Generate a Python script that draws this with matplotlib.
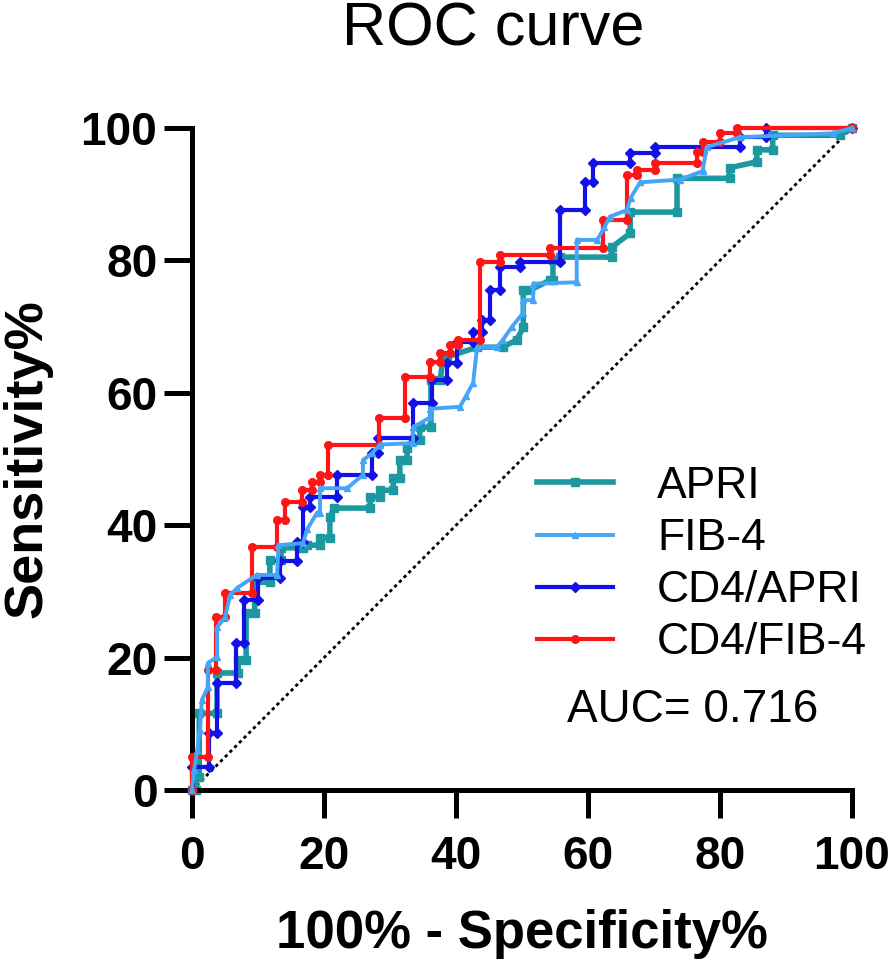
import matplotlib
matplotlib.use("Agg")
import matplotlib.pyplot as plt

plt.rcParams['font.family'] = ['Liberation Sans', 'DejaVu Sans']

# ROC points (100% - specificity %, sensitivity %)
apri_x = [0, 0.6, 0.6, 1.1, 1.1, 3.8, 3.8, 7.0, 7.0, 8.2, 8.2, 9.5, 9.5, 11.8, 11.8,
          13.5, 13.5, 16.8, 17.4, 19.4, 19.4, 20.9, 20.9, 21.5, 27.0, 27.0, 28.5, 28.5,
          30.5, 30.5, 31.5, 31.5, 32.6, 32.6, 33.5, 34.5, 34.5, 36.2, 36.2, 37.6, 38.0,
          38.6, 43.2, 47.1, 49.2, 50.2, 50.2, 51.2, 54.2, 54.7, 54.7, 55.8, 63.6, 63.6,
          66.4, 66.4, 73.5, 73.5, 81.5, 81.5, 85.6, 85.6, 88.0, 88.0, 98.2, 100]
apri_y = [0, 0, 2, 2, 11.6, 11.6, 17.7, 17.7, 19.6, 19.6, 26.7, 26.7, 31.4, 31.4, 34.7,
          34.7, 36.6, 36.6, 37.0, 37.0, 38.1, 38.1, 41.2, 42.6, 42.6, 44.3, 44.3, 45.3,
          45.3, 47.1, 47.1, 49.8, 49.8, 51.7, 52.9, 52.9, 54.8, 54.8, 61.9, 61.9, 65.0,
          65.4, 66.9, 66.9, 68.0, 69.9, 75.5, 75.5, 77.0, 77.0, 80.1, 80.5, 80.5, 82.0,
          84.1, 87.3, 87.3, 92.4, 92.4, 94.0, 94.9, 96.7, 96.7, 98.9, 98.9, 100]

fib4_x = [0, 0.3, 0.8, 1.2, 1.5, 2.4, 2.4, 3.8, 3.8, 5.0, 5.8, 6.8, 9.8, 12.9, 13.1,
          16.8, 17.5, 18.9, 19.4, 19.4, 23.5, 25.9, 25.9, 27.3, 28.5, 33.5, 33.5, 36.1,
          36.1, 40.6, 41.5, 42.6, 43.2, 46.2, 47.1, 48.5, 50.2, 50.2, 51.7, 51.7, 58.3,
          58.3, 61.4, 62.5, 63.3, 65.9, 66.5, 67.9, 73.9, 77.4, 77.4, 78.0, 83.0, 97.1, 100]
fib4_y = [0, 3, 6, 9.1, 13.6, 15.6, 19.2, 20.1, 24.6, 26.1, 29.5, 30.5, 32.5, 32.5, 37.0,
          37.3, 39.5, 41.8, 41.8, 45.6, 45.6, 47.6, 49.8, 50.9, 52.2, 52.4, 54.8, 56.3,
          57.6, 57.9, 59.5, 61.5, 66.9, 66.9, 68.0, 70.0, 72.1, 74.0, 74.0, 76.5, 76.7,
          83.1, 83.1, 85.0, 86.6, 87.6, 89.5, 91.8, 92.2, 93.5, 93.7, 97.1, 98.6, 99.2, 100]

cd4apri_x = [0, 0, 2.6, 2.6, 3.8, 3.8, 6.7, 6.7, 7.9, 7.9, 10.0, 10.0, 13.3, 13.3, 15.9,
             15.9, 16.8, 16.8, 17.9, 17.9, 22.0, 22.0, 27.3, 27.3, 28.2, 28.2, 33.5, 33.5,
             36.4, 36.4, 38.6, 38.6, 40.2, 40.2, 42.6, 42.6, 44.0, 44.0, 45.2, 45.2, 46.7,
             46.7, 49.7, 49.7, 55.8, 55.8, 59.5, 59.5, 60.8, 60.8, 66.4, 66.4, 70.2, 70.2,
             83.0, 83.0, 87.0, 87.0, 100]
cd4apri_y = [0, 3.5, 3.5, 8.6, 8.6, 16.2, 16.2, 22.2, 22.2, 28.7, 28.7, 32.0, 32.0, 34.6,
             34.6, 37.5, 37.5, 42.8, 42.8, 44.3, 44.3, 47.6, 47.6, 50.9, 50.9, 53.2, 53.2,
             58.5, 58.5, 62.0, 62.0, 64.5, 64.5, 67.7, 67.7, 69.2, 69.2, 71.0, 71.0, 75.5,
             75.5, 79.0, 79.0, 79.8, 79.8, 87.6, 87.6, 91.8, 91.8, 94.7, 94.7, 96.2, 96.2,
             97.1, 97.1, 98.6, 98.6, 100, 100]

cd4fib4_x = [0, 0, 2.4, 2.4, 3.6, 3.6, 5.0, 5.0, 9.1, 9.1, 12.9, 12.9, 14.1, 14.1, 16.7,
             16.7, 18.2, 18.2, 19.4, 19.4, 20.6, 20.6, 28.3, 28.3, 32.3, 32.3, 36.1, 36.1,
             37.6, 37.6, 39.1, 39.1, 40.3, 40.3, 43.6, 43.6, 46.7, 46.7, 54.2, 54.2, 62.3,
             62.3, 65.9, 65.9, 67.4, 67.4, 70.2, 70.2, 76.5, 76.5, 77.4, 77.4, 80.0, 80.0,
             82.6, 82.6, 100]
cd4fib4_y = [0, 5, 5, 18.1, 18.1, 26.1, 26.1, 29.8, 29.8, 36.7, 36.7, 40.8, 40.8, 43.5,
             43.5, 45.3, 45.3, 46.5, 46.5, 47.6, 47.6, 52.1, 52.1, 56.2, 56.2, 62.4, 62.4,
             64.7, 64.7, 66.0, 66.0, 67.2, 67.2, 68.0, 68.0, 79.8, 79.8, 80.8, 80.8, 81.9,
             81.9, 86.1, 86.1, 92.9, 92.9, 93.7, 93.7, 94.7, 94.7, 96.4, 96.4, 97.9, 97.9,
             99.2, 99.2, 100, 100]

chance = [0, 100]
ticks = [0, 20, 40, 60, 80, 100]
auc_text = "AUC= 0.716"

fig = plt.figure(figsize=(8.93, 9.66), dpi=100)
ax = fig.add_axes([0.215, 0.182, 0.739, 0.6855])

ax.plot(chance, chance, color='black', lw=2, ls=(0, (1.2, 1.2)), zorder=1)
ax.plot(apri_x, apri_y, color='#1c98a0', lw=4.0, marker='s', ms=5.5,
        label='APRI', clip_on=False, zorder=2)
ax.plot(cd4apri_x, cd4apri_y, color='#1212e8', lw=3.0, marker='D', ms=5,
        label='CD4/APRI', clip_on=False, zorder=3)
ax.plot(cd4fib4_x, cd4fib4_y, color='#ff1515', lw=3.0, marker='o', ms=5.5,
        label='CD4/FIB-4', clip_on=False, zorder=4)
ax.plot(fib4_x, fib4_y, color='#45a5f7', lw=2.8, marker='^', ms=5,
        label='FIB-4', clip_on=False, zorder=5)

ax.set_xlim(0, 100)
ax.set_ylim(0, 100)
ax.set_xticks(ticks)
ax.set_yticks(ticks)
ax.spines['top'].set_visible(False)
ax.spines['right'].set_visible(False)
for s in ['left', 'bottom']:
    ax.spines[s].set_linewidth(3.6)
ax.tick_params(axis='both', width=3.6, length=20, labelsize=33)
ax.tick_params(axis='x', pad=12)
ax.tick_params(axis='y', pad=5)
for lab in ax.get_xticklabels() + ax.get_yticklabels():
    lab.set_fontweight('bold')

ax.set_xlabel('100% - Specificity%', fontsize=38, fontweight='bold', labelpad=22)
ax.set_ylabel('Sensitivity%', fontsize=39, fontweight='bold', labelpad=20)
fig.text(0.552, 0.969, 'ROC curve', fontsize=44, ha='center', va='center')

handles, labels = ax.get_legend_handles_labels()
order = [0, 3, 1, 2]
ax.legend([handles[i] for i in order], [labels[i] for i in order],
          loc='upper left', bbox_to_anchor=(537 / 893, 1 - 466 / 966),
          bbox_transform=fig.transFigure, frameon=False, fontsize=32,
          handlelength=1.7, handletextpad=1.0, labelspacing=0.25,
          borderpad=0, borderaxespad=0)
ax.text(0.568, 0.121, auc_text, transform=ax.transAxes, fontsize=33,
        ha='left', va='center')

fig.savefig('out.png', dpi=100)
